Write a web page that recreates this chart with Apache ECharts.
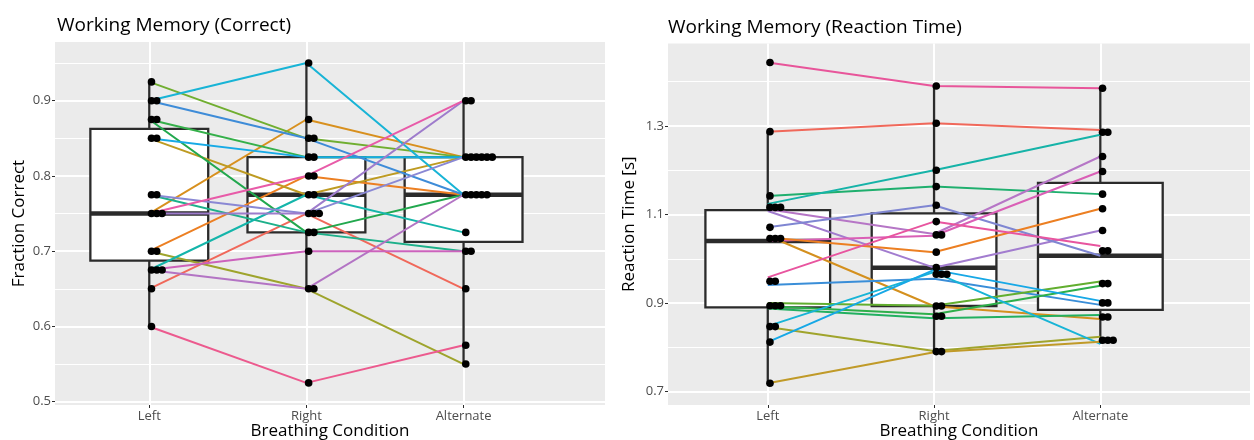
<!DOCTYPE html>
<html>
<head>
<meta charset="utf-8">
<script src="https://cdn.jsdelivr.net/npm/echarts@6/dist/echarts.min.js"></script>
<style>
  html, body { margin: 0; padding: 0; background: #ffffff; }
  #chart { width: 1254px; height: 440px; }
</style>
</head>
<body>
<div id="chart"></div>
<script>
// Breathing conditions on the x axis
const conditions = ['Left', 'Right', 'Alternate'];

// Working memory, fraction correct: one entry per participant, same order in each array
const correctLeft      = [0.65, 0.70, 0.75, 0.85, 0.70, 0.925, 0.875, 0.875, 0.775, 0.675, 0.90, 0.85, 0.90, 0.775, 0.75, 0.675, 0.675, 0.75, 0.60];
const correctRight     = [0.75, 0.80, 0.875, 0.775, 0.65, 0.85, 0.825, 0.725, 0.725, 0.775, 0.95, 0.825, 0.85, 0.75, 0.75, 0.65, 0.70, 0.80, 0.525];
const correctAlternate = [0.65, 0.775, 0.825, 0.825, 0.55, 0.825, 0.825, 0.775, 0.70, 0.725, 0.775, 0.825, 0.775, 0.825, 0.90, 0.775, 0.70, 0.90, 0.575];

// Working memory, reaction time in seconds: one entry per participant
const rtLeft      = [1.443, 1.287, 1.142, 1.124, 1.108, 1.112, 1.071, 1.040, 1.048, 1.052, 0.958, 0.941, 0.900, 0.893, 0.888, 0.846, 0.848, 0.812, 0.719];
const rtRight     = [1.390, 1.306, 1.163, 1.200, 0.980, 1.056, 1.121, 1.052, 1.015, 0.893, 1.084, 0.955, 0.894, 0.875, 0.866, 0.792, 0.970, 0.975, 0.789];
const rtAlternate = [1.385, 1.291, 1.146, 1.280, 1.064, 1.231, 1.007, 1.197, 1.113, 0.864, 1.029, 0.896, 0.949, 0.939, 0.873, 0.824, 0.808, 0.905, 0.813];

// Axis tick labels and minor grid positions
const correctTicks = [0.5, 0.6, 0.7, 0.8, 0.9];
const correctMinor = [0.55, 0.65, 0.75, 0.85, 0.95];
const rtTicks = [0.7, 0.9, 1.1, 1.3];
const rtMinor = [0.8, 1.0, 1.2, 1.4];

// Participant line colours (hue wheel)
const correctColors = ['#F0685A', '#EC7F22', '#D8901E', '#BE9B22', '#9EA42C', '#70AE30', '#35B04A', '#22A84E',
  '#1DB08A', '#14B5AA', '#18B4D6', '#17AAE6', '#3E8CD8', '#8A88D4', '#9E7CCC', '#B374C4', '#CC62BC', '#E85BA8', '#EC5A8E'];
const rtColors = ['#E8559A', '#F0685A', '#1FAF6E', '#16B3A8', '#A27CCF', '#B676C6', '#7F86D2', '#DA5FB6', '#EC7F22',
  '#D4901E', '#E8559F', '#3A8ED8', '#62AE2F', '#2EAF4A', '#22B060', '#A0A42C', '#18B4D6', '#17A8E6', '#C09A28'];

const FONT = 'Open Sans';
const INK = '#2B2B2B';

// Tukey box statistics (type-7 quantiles, 1.5 IQR whiskers)
function quantile(sorted, p) {
  const h = (sorted.length - 1) * p;
  const lo = Math.floor(h);
  const hi = Math.ceil(h);
  return sorted[lo] + (h - lo) * (sorted[hi] - sorted[lo]);
}
function boxStats(values, x) {
  const s = values.slice().sort((a, b) => a - b);
  const q1 = quantile(s, 0.25), med = quantile(s, 0.5), q3 = quantile(s, 0.75);
  const iqr = q3 - q1;
  const inside = s.filter(v => v >= q1 - 1.5 * iqr && v <= q3 + 1.5 * iqr);
  return [x, inside[0], q1, med, q3, inside[inside.length - 1]];
}

// Dot-density binning along y, dots stacked sideways within a bin
function dotItems(groups) {
  const all = [].concat(...groups);
  const bw = (Math.max(...all) - Math.min(...all)) / 30;
  const items = [];
  groups.forEach((vals, gi) => {
    const s = vals.slice().sort((a, b) => a - b);
    const bins = [];
    let end = -Infinity;
    s.forEach(v => {
      if (v >= end - 1e-9) { bins.push([]); end = v + bw; }
      bins[bins.length - 1].push(v);
    });
    bins.forEach(b => {
      const center = (b[0] + b[b.length - 1]) / 2;
      b.forEach((v, k) => items.push([gi + 1, center, k]));
    });
  });
  return items;
}

// White major/minor panel grid, drawn underneath everything else
function gridLineSeries(idx, major, minor) {
  const white = w => ({ color: '#ffffff', width: w, type: 'solid' });
  return {
    type: 'line', xAxisIndex: idx, yAxisIndex: idx, data: [], silent: true, z: 1,
    markLine: {
      z: 1, silent: true, animation: false, symbol: ['none', 'none'], label: { show: false },
      emphasis: { disabled: true },
      data: [
        ...minor.map(v => ({ yAxis: v, lineStyle: white(1) })),
        ...major.map(v => ({ yAxis: v, lineStyle: white(2) })),
        ...[1, 2, 3].map(v => ({ xAxis: v, lineStyle: white(2) }))
      ]
    }
  };
}

function boxSeries(idx, groups) {
  return {
    type: 'custom', xAxisIndex: idx, yAxisIndex: idx, z: 2, silent: true, animation: false,
    data: groups.map((g, i) => boxStats(g, i + 1)),
    renderItem: (params, api) => {
      const x = api.value(0);
      const lo = api.coord([x, api.value(1)]);
      const q1 = api.coord([x, api.value(2)]);
      const md = api.coord([x, api.value(3)]);
      const q3 = api.coord([x, api.value(4)]);
      const hi = api.coord([x, api.value(5)]);
      const half = api.size([0.75, 0])[0] / 2;
      const ink = { stroke: INK, lineWidth: 2.3 };
      return {
        type: 'group',
        children: [
          { type: 'line', shape: { x1: q3[0], y1: q3[1], x2: hi[0], y2: hi[1] }, style: ink },
          { type: 'line', shape: { x1: q1[0], y1: q1[1], x2: lo[0], y2: lo[1] }, style: ink },
          { type: 'rect', shape: { x: q1[0] - half, y: q3[1], width: 2 * half, height: q1[1] - q3[1] },
            style: { fill: '#ffffff', stroke: INK, lineWidth: 2.3 } },
          { type: 'line', shape: { x1: md[0] - half, y1: md[1], x2: md[0] + half, y2: md[1] },
            style: { stroke: INK, lineWidth: 4.5 } }
        ]
      };
    }
  };
}

function participantSeries(idx, left, right, alt, colors) {
  return left.map((v, i) => ({
    type: 'line', xAxisIndex: idx, yAxisIndex: idx, z: 3, silent: true, animation: false,
    symbol: 'none', lineStyle: { color: colors[i], width: 2 },
    data: [[1, left[i]], [2, right[i]], [3, alt[i]]]
  }));
}

function dotSeries(idx, groups) {
  return {
    type: 'custom', xAxisIndex: idx, yAxisIndex: idx, z: 4, silent: true, animation: false,
    data: dotItems(groups),
    renderItem: (params, api) => {
      const c = api.coord([api.value(0), api.value(1)]);
      return { type: 'circle', shape: { cx: c[0] + 2.2 + api.value(2) * 5.3, cy: c[1], r: 3.8 }, style: { fill: '#000000' } };
    }
  };
}

function xAxisFor(idx) {
  return {
    gridIndex: idx, type: 'value', min: 0.4, max: 3.9,
    axisLine: { show: false }, splitLine: { show: false },
    axisTick: { show: true, customValues: [1, 2, 3], length: 3, lineStyle: { color: INK, width: 1 } },
    axisLabel: { customValues: [1, 2, 3], formatter: v => conditions[Math.round(v) - 1], color: '#4D4D4D',
      fontSize: 13, margin: 5, fontFamily: FONT },
    name: 'Breathing Condition', nameLocation: 'middle', nameGap: 18, nameMoveOverlap: false,
    nameTextStyle: { fontSize: 17, color: '#000000', fontFamily: FONT }
  };
}

function yAxisFor(idx, min, max, ticks, name, gap) {
  return {
    gridIndex: idx, type: 'value', min: min, max: max,
    axisLine: { show: false }, splitLine: { show: false },
    axisTick: { show: true, customValues: ticks, length: 3, lineStyle: { color: INK, width: 1 } },
    axisLabel: { customValues: ticks, formatter: v => v.toFixed(1), color: '#4D4D4D',
      fontSize: 13, margin: 4, fontFamily: FONT },
    name: name, nameLocation: 'middle', nameGap: gap, nameMoveOverlap: false,
    nameTextStyle: { fontSize: 17, color: '#000000', fontFamily: FONT }
  };
}

const correctGroups = [correctLeft, correctRight, correctAlternate];
const rtGroups = [rtLeft, rtRight, rtAlternate];

const chart = echarts.init(document.getElementById('chart'), null, { renderer: 'canvas' });
chart.setOption({
  animation: false,
  backgroundColor: '#ffffff',
  title: [
    { text: 'Working Memory (Correct)', left: 57, top: 16, padding: 0,
      textStyle: { fontSize: 19, fontWeight: 'normal', color: '#000000', fontFamily: FONT } },
    { text: 'Working Memory (Reaction Time)', left: 668, top: 18, padding: 0,
      textStyle: { fontSize: 19, fontWeight: 'normal', color: '#000000', fontFamily: FONT } }
  ],
  grid: [
    { left: 55, top: 42, width: 550, height: 363, show: true, backgroundColor: '#EBEBEB', borderWidth: 0,
      outerBoundsMode: 'none', containLabel: false },
    { left: 668, top: 43.5, width: 582, height: 361.5, show: true, backgroundColor: '#EBEBEB', borderWidth: 0,
      outerBoundsMode: 'none', containLabel: false }
  ],
  xAxis: [xAxisFor(0), xAxisFor(1)],
  yAxis: [
    yAxisFor(0, 0.4956, 0.978, correctTicks, 'Fraction Correct', 27),
    yAxisFor(1, 0.670, 1.486, rtTicks, 'Reaction Time [s]', 30)
  ],
  series: [
    gridLineSeries(0, correctTicks, correctMinor),
    gridLineSeries(1, rtTicks, rtMinor),
    boxSeries(0, correctGroups),
    boxSeries(1, rtGroups),
    ...participantSeries(0, correctLeft, correctRight, correctAlternate, correctColors),
    ...participantSeries(1, rtLeft, rtRight, rtAlternate, rtColors),
    dotSeries(0, correctGroups),
    dotSeries(1, rtGroups)
  ]
});
</script>
</body>
</html>
